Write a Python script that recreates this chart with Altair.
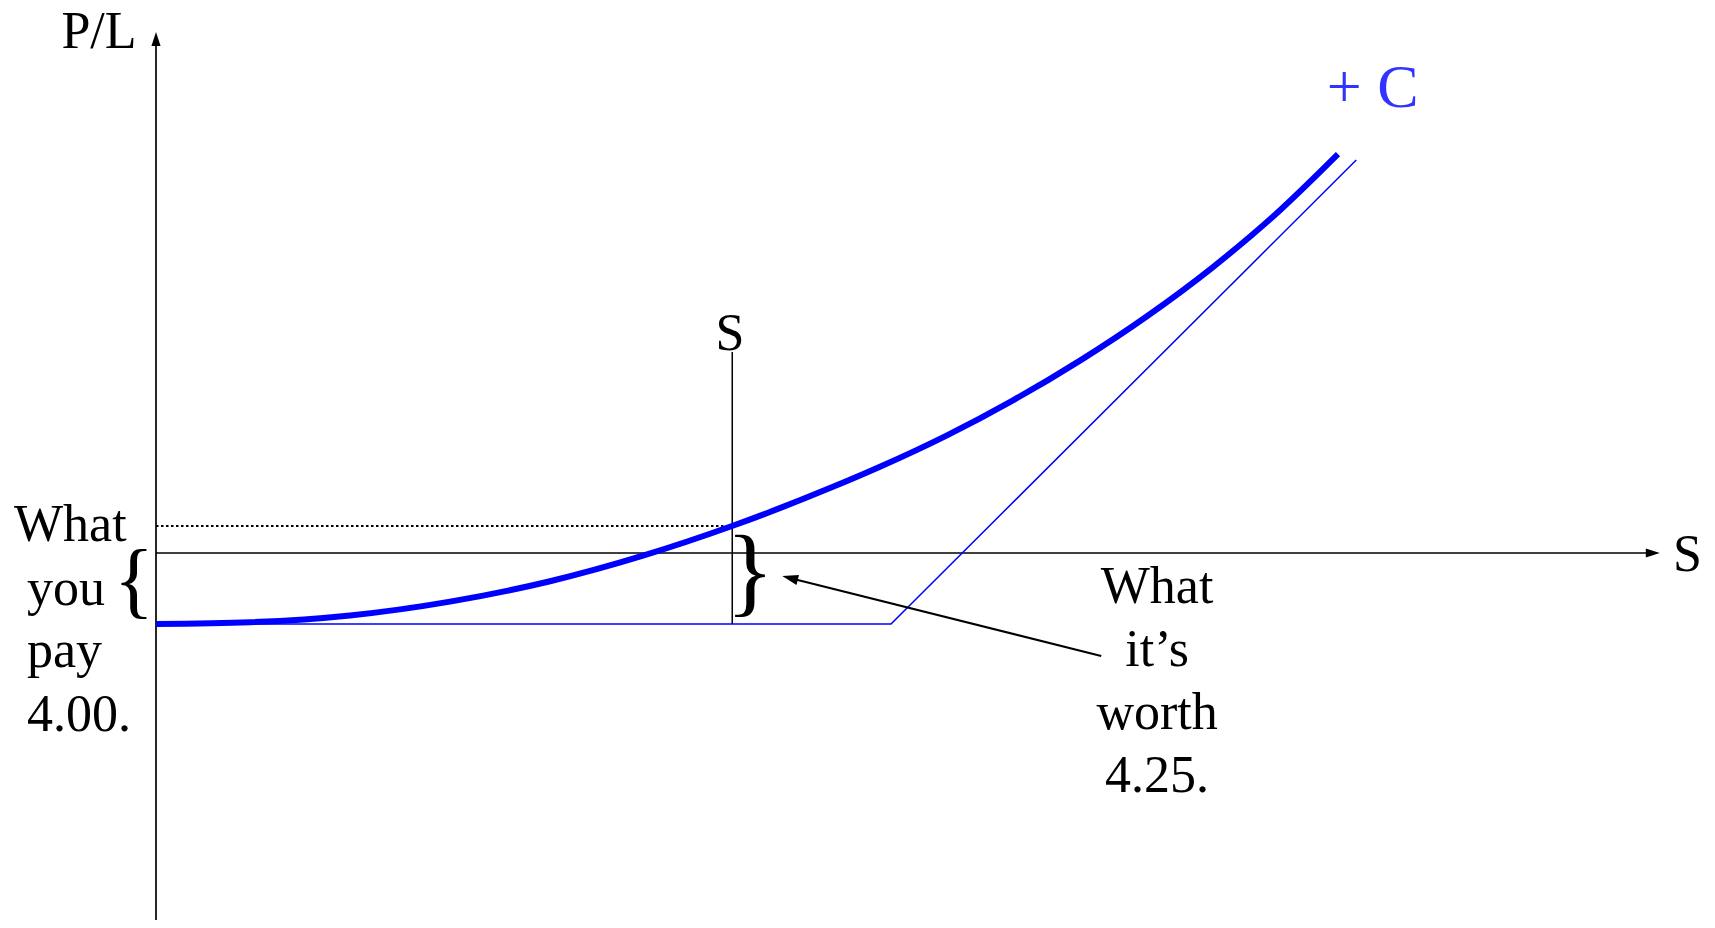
import altair as alt
import pandas as pd

# ---------------- data (schematic units: S along x, P/L along y) ----------------
curve_s = [0, 12.79, 26.39, 40.0, 53.61, 66.26, 78.37, 92.11, 98.50, 107.62,
           116.60, 125.71, 134.83, 143.81, 152.93, 160.82]
curve_pl = [-4.0, -3.90, -3.52, -2.74, -1.59, -0.15, 1.52, 3.73, 4.86, 6.63,
            8.60, 10.84, 13.34, 16.11, 19.31, 22.47]

payoff_s = [0, 100, 163.3]
payoff_pl = [-4.0, -4.0, 22.14]

premium = -4.0          # "What you pay 4.00."
s0 = 78.4               # current stock price
value_at_s0 = 1.52      # curve value at S0

left_lines = ["What", "you", "pay", "4.00."]
right_lines = ["What", "it\u2019s", "worth", "4.25."]

# ---------------- layout constants ----------------
W, H = 1699, 912
PX_S, PX_PL = 7.35, 17.75
OX, OY = 148, 545
x_dom = [-OX / PX_S, (W - OX) / PX_S]
y_dom = [-(H - OY) / PX_PL, OY / PX_PL]

xs = alt.Scale(domain=x_dom, nice=False, zero=False)
ys = alt.Scale(domain=y_dom, nice=False, zero=False)
FONT = "Liberation Serif"
BLUE = "#0000ff"


def X(f="s"):
    return alt.X(f"{f}:Q", scale=xs, axis=None)


def Y(f="pl"):
    return alt.Y(f"{f}:Q", scale=ys, axis=None)


# axes as rules
axes_df = pd.DataFrame({
    "s": [0, 0], "s2": [0, 203.0],
    "pl": [y_dom[0], 0], "pl2": [28.8, 0],
})
axes = alt.Chart(axes_df).mark_rule(color="black", strokeWidth=1.7).encode(
    x=X("s"), x2="s2:Q", y=Y("pl"), y2="pl2:Q")

# dotted level line and S0 vertical line
dot_df = pd.DataFrame({"s": [0], "s2": [s0], "pl": [value_at_s0]})
dotted = alt.Chart(dot_df).mark_rule(color="black", strokeWidth=2, strokeDash=[2.5, 2.5]).encode(
    x=X("s"), x2="s2:Q", y=Y("pl"))

s0_df = pd.DataFrame({"s": [s0], "pl": [premium], "pl2": [11.32]})
s0_line = alt.Chart(s0_df).mark_rule(color="black", strokeWidth=1.5).encode(
    x=X("s"), y=Y("pl"), y2="pl2:Q")

# payoff at expiry (thin) and current value curve (thick)
payoff = alt.Chart(pd.DataFrame({"s": payoff_s, "pl": payoff_pl})).mark_line(
    color=BLUE, strokeWidth=1.5).encode(x=X(), y=Y(), order="s:Q")

curve = alt.Chart(pd.DataFrame({"s": curve_s, "pl": curve_pl})).mark_line(
    color=BLUE, strokeWidth=6, interpolate="monotone").encode(x=X(), y=Y(), order="s:Q")

# annotation arrow line
ann_df = pd.DataFrame({"s": [128.6], "pl": [-5.80], "s2": [86.5], "pl2": [-1.44]})
ann = alt.Chart(ann_df).mark_rule(color="black", strokeWidth=2).encode(
    x=X("s"), y=Y("pl"), x2="s2:Q", y2="pl2:Q")

ARROW = "M0,0L-2,-0.65L-2,0.65Z"


def head(s, pl, ang, size):
    return alt.Chart(pd.DataFrame({"s": [s], "pl": [pl]})).mark_point(
        shape=ARROW, filled=True, size=size, color="black", opacity=1,
        angle=ang, strokeWidth=0).encode(x=X(), y=Y())


heads = [
    head(0, 29.35, 270, 196),
    head(204.6, 0, 0, 196),
    head(85.2, -1.30, 194, 256),
]


def txt(s, pl, text, size, align="left", color="black"):
    return alt.Chart(pd.DataFrame({"s": [s], "pl": [pl], "t": [text]})).mark_text(
        font=FONT, fontSize=size, align=align, baseline="alphabetic", color=color).encode(
        x=X(), y=Y(), text="t:N")


texts = [
    txt(-7.76, 28.45, "P/L", 52, "center"),
    txt(206.4, -1.01, "S", 52, "left"),
    txt(78.1, 11.44, "S", 52, "center"),
    txt(159.3, 25.1, "+ C", 62, "left", "#3333ff"),
    txt(-2.99, -3.10, "{", 84, "center"),
    txt(80.8, -2.9, "}", 100, "center"),
]

left_x = [-19.32, -17.55, -17.55, -17.55]
left_pl = [0.676, -2.93, -6.42, -10.03]
for lx, lp, t in zip(left_x, left_pl, left_lines):
    texts.append(txt(lx, lp, t, 52, "left"))

right_pl = [-2.82, -6.37, -9.92, -13.46]
for rp, t in zip(right_pl, right_lines):
    texts.append(txt(136.2, rp, t, 52, "center"))

chart = alt.layer(axes, dotted, s0_line, payoff, curve, ann, *heads, *texts).properties(
    width=W, height=H, padding=0, autosize=alt.AutoSizeParams(type="none"),
    background="white",
).configure_view(stroke=None)

chart.save("out.html", embed_options={"renderer": "svg", "actions": False})
